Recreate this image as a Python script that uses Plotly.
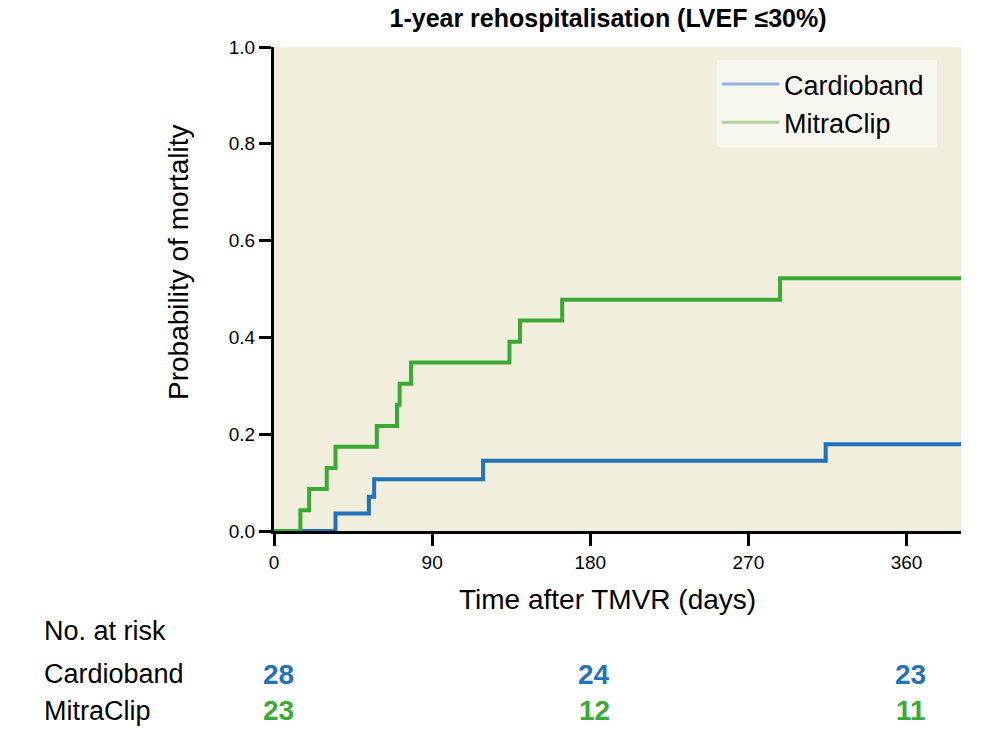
import plotly.graph_objects as go

# Kaplan-Meier style step data (days, cumulative probability)
cardioband_days = [0, 35, 54, 57, 119, 314, 391]
cardioband_prob = [0.0, 0.036, 0.071, 0.107, 0.145, 0.179, 0.179]

mitraclip_days = [0, 15, 20, 30, 35, 58.5, 70, 71.5, 78, 134, 140, 164, 288, 391]
mitraclip_prob = [0.0, 0.043, 0.087, 0.130, 0.174, 0.217, 0.261, 0.304, 0.348,
                  0.391, 0.435, 0.478, 0.522, 0.522]

x_ticks = [0, 90, 180, 270, 360]
y_ticks = [0.0, 0.2, 0.4, 0.6, 0.8, 1.0]

risk_days = [0, 180, 360]
risk_cardioband = [28, 24, 23]
risk_mitraclip = [23, 12, 11]

BLUE = "#2272b8"
GREEN = "#3aaa35"
BLUE_LEG = "#92b1e0"
GREEN_LEG = "#acd393"
FONT = "Liberation Sans, Arial, sans-serif"

W, H = 1004, 732
# plot area in pixel coordinates
PX0, PX1, PY0, PY1 = 274, 961, 47, 531
L, R, T, B = PX0, W - PX1, PY0, H - PY1
pw, ph = PX1 - PX0, PY1 - PY0


def px_x(px):
    return (px - PX0) / pw


def px_y(py):
    return (PY1 - py) / ph


fig = go.Figure()
fig.add_trace(go.Scatter(x=cardioband_days, y=cardioband_prob, mode="lines",
                         line=dict(color=BLUE, width=4, shape="hv"),
                         showlegend=False, hoverinfo="skip"))
fig.add_trace(go.Scatter(x=mitraclip_days, y=mitraclip_prob, mode="lines",
                         line=dict(color=GREEN, width=4, shape="hv"),
                         showlegend=False, hoverinfo="skip"))
# legend entries (lighter swatches as in the reference)
fig.add_trace(go.Scatter(x=[None], y=[None], mode="lines", name="Cardioband\u00a0",
                         line=dict(color=BLUE_LEG, width=3)))
fig.add_trace(go.Scatter(x=[None], y=[None], mode="lines", name="MitraClip",
                         line=dict(color=GREEN_LEG, width=3)))

annotations = []
annotations.append(dict(text="Probability of mortality", x=px_x(178), y=px_y(263),
                        xref="paper", yref="paper", textangle=-90, showarrow=False,
                        xanchor="center", yanchor="middle",
                        font=dict(family=FONT, size=28, color="black")))
annotations.append(dict(text="Time after TMVR (days)", x=px_x(607), y=px_y(599),
                        xref="paper", yref="paper", showarrow=False,
                        xanchor="center", yanchor="middle",
                        font=dict(family=FONT, size=28, color="black")))
annotations.append(dict(text="No. at risk", x=px_x(42), y=px_y(631),
                        xref="paper", yref="paper", showarrow=False,
                        xanchor="left", yanchor="middle",
                        font=dict(family=FONT, size=27, color="black")))
annotations.append(dict(text="Cardioband", x=px_x(42), y=px_y(674),
                        xref="paper", yref="paper", showarrow=False,
                        xanchor="left", yanchor="middle",
                        font=dict(family=FONT, size=27, color="black")))
annotations.append(dict(text="MitraClip", x=px_x(42), y=px_y(711),
                        xref="paper", yref="paper", showarrow=False,
                        xanchor="left", yanchor="middle",
                        font=dict(family=FONT, size=27, color="black")))
for d, n in zip(risk_days, risk_cardioband):
    annotations.append(dict(text=f"<b>{n}</b>", x=d, y=px_y(674), xref="x", yref="paper",
                            xshift=4, showarrow=False, xanchor="center", yanchor="middle",
                            font=dict(family=FONT, size=28, color=BLUE)))
for d, n in zip(risk_days, risk_mitraclip):
    annotations.append(dict(text=f"<b>{n}</b>", x=d, y=px_y(711), xref="x", yref="paper",
                            xshift=4, showarrow=False, xanchor="center", yanchor="middle",
                            font=dict(family=FONT, size=28, color=GREEN)))

fig.update_layout(
    width=W, height=H,
    margin=dict(l=L, r=R, t=T, b=B, pad=0),
    paper_bgcolor="white",
    plot_bgcolor="#f1eedd",
    title=dict(text="<b>1-year rehospitalisation (LVEF ≤30%)</b>",
               x=px_x(608), xref="paper", xanchor="center",
               y=1 - 18 / H, yref="container", yanchor="middle",
               font=dict(family=FONT, size=25, color="black")),
    xaxis=dict(range=[0, 391], tickvals=x_ticks, ticktext=[str(v) for v in x_ticks],
               ticks="outside", ticklen=12, tickwidth=3, tickcolor="black",
               showline=True, linewidth=3, linecolor="black", mirror=False,
               showgrid=False, zeroline=False,
               tickfont=dict(family=FONT, size=19, color="black")),
    yaxis=dict(range=[0, 1.0], tickvals=y_ticks, tickformat=".1f",
               ticks="outside", ticklen=12, tickwidth=3, tickcolor="black",
               showline=True, linewidth=3, linecolor="black", mirror=False,
               showgrid=False, zeroline=False,
               tickfont=dict(family=FONT, size=19, color="black")),
    legend=dict(x=px_x(717), y=px_y(60), xanchor="left", yanchor="top",
                bgcolor="#f8f7ef", borderwidth=0, itemwidth=57,
                font=dict(family=FONT, size=27, color="black"),
                tracegroupgap=0),
    annotations=annotations,
    showlegend=True,
)

fig.write_html("out.html", config={"displayModeBar": False},
               post_script="document.body.style.margin='0';document.body.style.padding='0';")
